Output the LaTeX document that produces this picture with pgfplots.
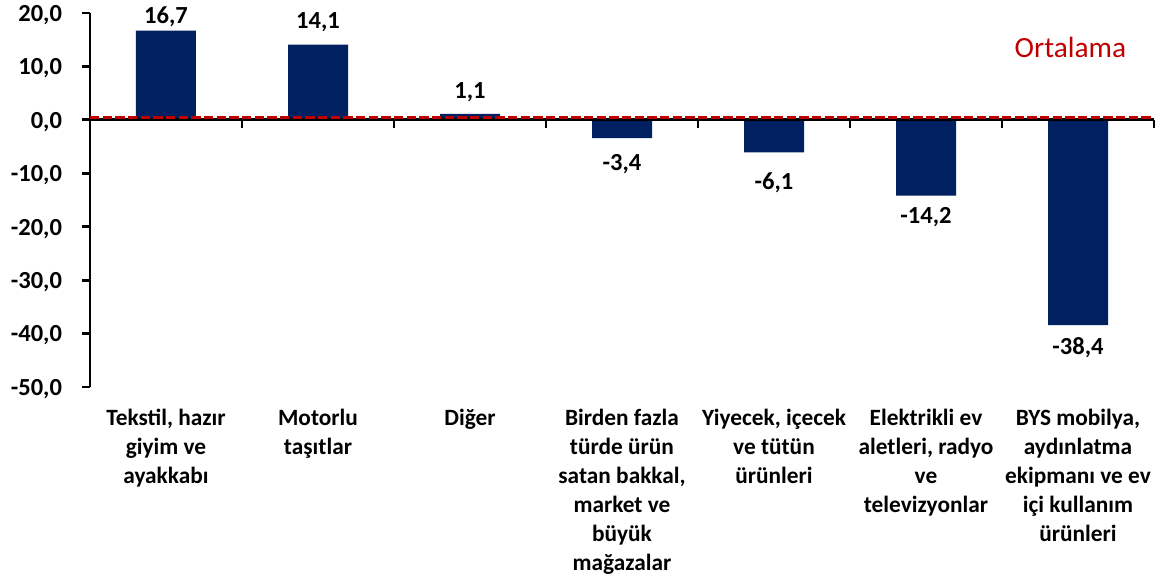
\documentclass[border=0pt]{standalone}
\usepackage{fontspec}
\setmainfont{Carlito}
\usepackage{pgfplots}
\usepackage{pgfplotstable}
\pgfplotsset{compat=1.18}
\definecolor{navy}{HTML}{002060}
\definecolor{ored}{HTML}{C00000}
\pgfplotstableread{
x y off
0 16.7 -1
1 14.1 6
2 1.1 5.25
3 -3.4 -8.5
4 -6.1 -12
5 -14.2 -5.5
6 -38.4 -5.5
}\datatable
\begin{document}
\begin{tikzpicture}
\begin{axis}[
  scale only axis, width=798pt, height=280.5pt,
  xmin=-0.5, xmax=6.5, ymin=-50, ymax=20,
  ytick={-50,-40,...,20},
  xtick={0,...,6},
  xticklabels={{Tekstil, hazır\\giyim ve\\ayakkabı},{Motorlu\\taşıtlar},{Diğer},{Birden fazla\\türde ürün\\satan bakkal,\\market ve\\büyük\\mağazalar},{Yiyecek, içecek\\ve tütün\\ürünleri},{Elektrikli ev\\aletleri, radyo\\ve\\televizyonlar},{BYS mobilya,\\aydınlatma\\ekipmanı ve ev\\içi kullanım\\ürünleri}},
  axis x line=bottom, axis y line=left,
  x axis line style={draw=none},
  y axis line style={-, line width=2.2pt},
  x tick style={draw=none},
  y tick style={line width=2.2pt, black},
  tick align=outside, major tick length=6pt,
  x tick label style={align=center, font=\bfseries\fontsize{17.5}{21.75}\selectfont, anchor=north, yshift=-7pt},
  y tick label style={font=\bfseries\fontsize{18.4}{20}\selectfont, xshift=-11.5pt, yshift=-1.5pt},
  scaled y ticks=false,
  /pgf/number format/use comma,
  /pgf/number format/fixed,
  /pgf/number format/fixed zerofill,
  /pgf/number format/precision=1,
  /pgf/number format/assume math mode=true,
  clip=false,
]
\addplot[ybar, bar width=45pt, bar shift=0pt, fill=navy, draw=none,
  nodes near coords, nodes near coords align=vertical,
  visualization depends on={\thisrow{off}\as\myoff},
  every node near coord/.append style={font=\bfseries\fontsize{18.4}{20}\selectfont, black, yshift=\myoff}]
  table[x=x, y=y]{\datatable};
\draw[line width=2.2pt, black] (axis cs:-0.5,0) -- (axis cs:6.5,0);
\pgfplotsinvokeforeach{0.5,1.5,2.5,3.5,4.5,5.5,6.5}{
  \draw[line width=2.2pt, black] (axis cs:#1,0) -- ++(0pt,-6pt);
}
\addplot[ored, line width=2.1pt, dash pattern=on 7pt off 2.5pt] coordinates {(-0.5,0.45) (6.5,0.45)};
\node[ored, font=\fontsize{22}{22}\selectfont] at (axis cs:5.95,13.6) {Ortalama};
\coordinate (ll) at (rel axis cs:0,0);
\coordinate (ur) at (rel axis cs:1,1);
\end{axis}
\pgfresetboundingbox
\path[use as bounding box] ([xshift=-67.5pt, yshift=-142.5pt]ll) rectangle ([xshift=2.25pt, yshift=9.75pt]ur);
\end{tikzpicture}
\end{document}
